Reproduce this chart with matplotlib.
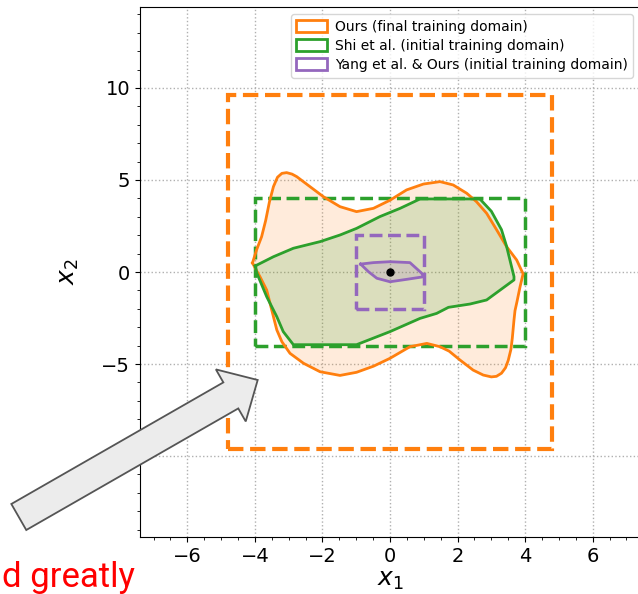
import matplotlib
matplotlib.use("Agg")
import matplotlib.pyplot as plt
from matplotlib.patches import Patch, FancyArrow, Rectangle
from matplotlib.ticker import MultipleLocator
import matplotlib.transforms as mtransforms

# ---- data ----
ours_final_x = [-4.07, -3.95, -3.80, -3.68, -3.57, -3.45, -3.33, -3.20, -3.06, -2.90, -2.76, -2.37,
                -1.97, -1.48, -0.99, -0.49, 0.00, 0.49, 0.99, 1.48, 1.87, 2.27, 2.56, 2.86,
                3.16, 3.45, 3.75, 3.94, 3.85, 3.76, 3.70, 3.67, 3.62, 3.58, 3.50, 3.42, 3.30,
                3.15, 3.00, 2.76, 2.46, 2.07, 1.75, 1.48, 1.09, 0.59, 0.00, -0.49, -0.99,
                -1.48, -2.07, -2.56, -2.96, -3.20, -3.35, -3.50, -3.65, -3.85, -3.96]
ours_final_y = [0.49, 1.20, 1.92, 2.80, 3.80, 4.64, 5.15, 5.36, 5.40, 5.32, 5.18, 4.64,
                4.09, 3.55, 3.28, 3.46, 3.90, 4.46, 4.78, 4.91, 4.73, 4.28, 3.82, 3.19,
                2.28, 1.38, 0.65, -0.10, -0.80, -1.60, -2.10, -2.61, -3.60, -4.20, -4.80, -5.20, -5.50,
                -5.67, -5.70, -5.60, -5.33, -4.78, -4.30, -4.06, -3.88, -4.06, -4.69, -5.12, -5.45,
                -5.62, -5.42, -4.96, -4.42, -3.79, -3.15, -2.07, -0.98, -0.25, 0.11]

shi_x = [-3.99, -3.45, -2.86, -2.07, -1.48, -0.99, -0.30, 0.30, 0.89, 2.66, 3.00, 3.30, 3.45,
         3.67, 3.67, 2.86, 2.37, 1.73, 1.38, 0.89, 0.00, -0.99, -2.86, -3.16, -3.35, -3.65, -3.94]
shi_y = [0.33, 0.83, 1.29, 1.65, 2.01, 2.37, 3.01, 3.46, 3.97, 3.97, 3.30, 2.30, 1.40,
         -0.25, -0.43, -1.52, -1.74, -1.92, -2.25, -2.52, -3.24, -3.95, -3.95, -3.24, -2.43, -1.34, -0.07]

yang_x = [-0.87, -0.49, 0.00, 0.59, 0.94, 0.99, 0.49, 0.00, -0.39, -0.64]
yang_y = [0.43, 0.51, 0.56, 0.51, -0.07, -0.26, -0.40, -0.53, -0.34, 0.02]

# training-domain boxes: (x_min, x_max, y_min, y_max)
box_final = (-4.8, 4.8, -9.6, 9.6)
box_shi = (-4.0, 4.0, -4.0, 4.0)
box_yang = (-1.0, 1.0, -2.0, 2.0)
center = (0.0, 0.0)

legend_labels = ["Ours (final training domain)",
                 "Shi et al. (initial training domain)",
                 "Yang et al. & Ours (initial training domain)"]

c_or, c_gr, c_pu = "tab:orange", "tab:green", "tab:purple"

W, H = 638, 594
fig = plt.figure(figsize=(W / 100, H / 100), dpi=100)
ax = fig.add_axes([140 / W, (H - 537) / H, 500 / W, 530 / H])

# filled regions
ax.fill(ours_final_x, ours_final_y, color=c_or, alpha=0.15, lw=0, zorder=1)
ax.fill(shi_x, shi_y, color=c_gr, alpha=0.17, lw=0, zorder=1.1)
ax.fill(yang_x, yang_y, color=c_pu, alpha=0.17, lw=0, zorder=1.2)

# outlines
ax.plot(ours_final_x + ours_final_x[:1], ours_final_y + ours_final_y[:1], color=c_or, lw=2,
        zorder=3, solid_joinstyle="round")
ax.plot(shi_x + shi_x[:1], shi_y + shi_y[:1], color=c_gr, lw=2, zorder=3.1)
ax.plot(yang_x + yang_x[:1], yang_y + yang_y[:1], color=c_pu, lw=2, zorder=3.2)

# dashed boxes
for b, c, lw in [(box_final, c_or, 3.0), (box_shi, c_gr, 2.5), (box_yang, c_pu, 2.5)]:
    ax.add_patch(Rectangle((b[0], b[2]), b[1] - b[0], b[3] - b[2], fill=False,
                           edgecolor=c, lw=lw, ls="--", zorder=2.5))

ax.plot([center[0]], [center[1]], "o", color="black", ms=5, zorder=4)

ax.set_xlim(-7.4, 7.4)
ax.set_ylim(-14.4, 14.4)
ax.set_xticks([-6, -4, -2, 0, 2, 4, 6])
ax.set_yticks([-10, -5, 0, 5, 10])
ax.xaxis.set_minor_locator(MultipleLocator(0.5))
ax.yaxis.set_minor_locator(MultipleLocator(1))
ax.tick_params(labelsize=14)
ax.grid(True, which="major", ls=":", color="#b0b0b0", lw=1)
ax.set_axisbelow(True)
ax.set_xlabel("$x_1$", fontsize=18, labelpad=2)
ax.set_ylabel("$x_2$", fontsize=18, labelpad=6)

handles = [Patch(facecolor="white", edgecolor=c, lw=2) for c in (c_or, c_gr, c_pu)]
ax.legend(handles, legend_labels, loc="upper right", fontsize=10,
          handlelength=2.2, handleheight=0.95, labelspacing=0.38, borderpad=0.4,
          handletextpad=0.55)

# annotation arrow in figure pixel coordinates (origin bottom-left)
pix = mtransforms.Affine2D().scale(1 / W, 1 / H) + fig.transFigure
tail = (18.8, H - 517)
tip = (257.7, H - 380)
arrow = FancyArrow(tail[0], tail[1], tip[0] - tail[0], tip[1] - tail[1], width=30,
                   head_width=60, head_length=31, length_includes_head=True,
                   facecolor="#ececec", edgecolor="#555555", lw=1.3,
                   transform=pix, zorder=10)
fig.add_artist(arrow)

fig.text(2 / W, (H - 587) / H, "d greatly", color="red", fontsize=25,
         family=["Roboto", "DejaVu Sans"], ha="left", va="baseline")

fig.savefig("out.png", dpi=100)
